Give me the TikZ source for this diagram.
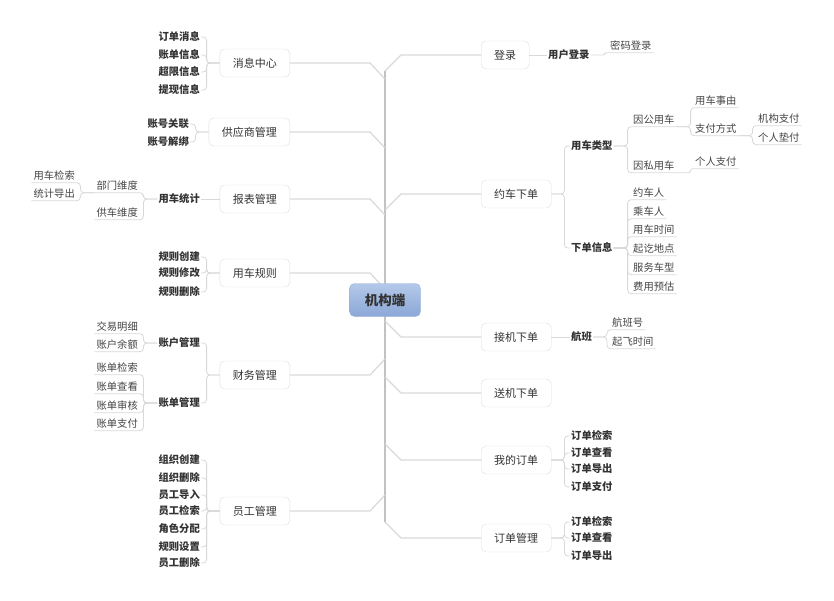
\documentclass[tikz,border=0pt]{standalone}
\usepackage{fontspec}
\setmainfont{Noto Sans CJK SC}
\usepackage{xcolor}
\usepackage{tikz}
\definecolor{linegray}{HTML}{D8D8D8}
\definecolor{spinegray}{HTML}{C2C2C2}
\definecolor{boxline}{HTML}{DDDDDD}
\definecolor{txt}{HTML}{333333}
\definecolor{leaftxt}{HTML}{444444}
\definecolor{roottop}{HTML}{B4C8E9}
\definecolor{rootbot}{HTML}{8CA8D7}
\definecolor{rootline}{HTML}{95AFDA}

\begin{document}
\begin{tikzpicture}[x=1pt,y=-1pt,
  box/.style={draw=boxline,fill=white,rounded corners=5pt,inner xsep=13pt,minimum height=28pt,text=txt,font=\fontsize{11}{13}\selectfont},
  sub/.style={inner xsep=1pt,inner ysep=1pt,text height=8.5pt,text depth=1.5pt,text=txt,font=\fontsize{10.3}{12}\selectfont\bfseries},
  leaf/.style={inner xsep=2pt,inner ysep=1.5pt,text height=8.5pt,text depth=1.5pt,text=leaftxt,font=\fontsize{10.3}{12}\selectfont},
  branch/.style={draw=linegray,line width=1.2pt},
  link/.style={draw=linegray,line width=0.8pt,rounded corners=3.5pt}]
\useasboundingbox (0,0) rectangle (834,600);
\coordinate (top) at (385,71);
\coordinate (bot) at (385,522);
\draw[spinegray,line width=2.5pt] (top) -- (bot);

% left side
\node[box,anchor=east] (msg) at (290,63) {消息中心};
\node[box,anchor=east] (supp) at (290,132) {供应商管理};
\node[box,anchor=east] (rpt) at (290,199) {报表管理};
\node[box,anchor=east] (rule) at (290,273) {用车规则};
\node[box,anchor=east] (fin) at (290,375) {财务管理};
\node[box,anchor=east] (staff) at (290,511) {员工管理};
\foreach \b in {msg,supp,rpt,rule} \draw[branch] (\b.east) -- ++(80,0) -- ++(15,16);
\foreach \b in {fin,staff} \draw[branch] (\b.east) -- ++(80,0) -- ++(15,-16);

\foreach \t/\y [count=\i] in {订单消息/37,账单信息/55,超限信息/72,提现信息/90}
  {\node[sub,anchor=east] (msg\i) at (201,\y) {\t};
   \draw[link] (msg.west) -- ++(-13,0) |- (msg\i.east);}
\foreach \t/\y [count=\i] in {账号关联/124,账号解绑/142}
  {\node[sub,anchor=east] (supp\i) at (190,\y) {\t};
   \draw[link] (supp.west) -- ++(-13,0) |- (supp\i.east);}
\node[sub,anchor=east] (rpt1) at (201,199) {用车统计};
\draw[link] (rpt.west) -- (rpt1.east);
\foreach \t/\y [count=\i] in {部门维度/186,供车维度/213}
  {\node[leaf,anchor=east] (rpta\i) at (140,\y) {\t};
   \draw[link] (rpt1.west) -- ++(-14,0) |- (rpta\i.south west);}
\foreach \t/\y [count=\i] in {用车检索/176,统计导出/194}
  {\node[leaf,anchor=east] (rptb\i) at (77,\y) {\t};
   \draw[link] (rpta1.south west) -- ++(-14,0) |- (rptb\i.south west);}
\foreach \t/\y [count=\i] in {规则创建/257,规则修改/273,规则删除/292}
  {\node[sub,anchor=east] (rule\i) at (201,\y) {\t};
   \draw[link] (rule.west) -- ++(-13,0) |- (rule\i.east);}
\foreach \t/\y [count=\i] in {账户管理/343,账单管理/403}
  {\node[sub,anchor=east] (fin\i) at (201,\y) {\t};
   \draw[link] (fin.west) -- ++(-13,0) |- (fin\i.east);}
\foreach \t/\y [count=\i] in {交易明细/327,账户余额/345}
  {\node[leaf,anchor=east] (fina\i) at (140,\y) {\t};
   \draw[link] (fin1.west) -- ++(-14,0) |- (fina\i.south west);}
\foreach \t/\y [count=\i] in {账单检索/368,账单查看/387,账单审核/406,账单支付/424}
  {\node[leaf,anchor=east] (finb\i) at (140,\y) {\t};
   \draw[link] (fin2.west) -- ++(-14,0) |- (finb\i.south west);}
\foreach \t/\y [count=\i] in {组织创建/460,组织删除/478,员工导入/495,员工检索/511,角色分配/529,规则设置/547,员工删除/563}
  {\node[sub,anchor=east] (staff\i) at (201,\y) {\t};
   \draw[link] (staff.west) -- ++(-13,0) |- (staff\i.east);}

% right side
\node[box,anchor=west] (login) at (481,55) {登录};
\node[box,anchor=west] (book) at (481,194) {约车下单};
\node[box,anchor=west] (pick) at (481,337) {接机下单};
\node[box,anchor=west] (drop) at (481,393) {送机下单};
\node[box,anchor=west] (mine) at (481,460) {我的订单};
\node[box,anchor=west] (ordm) at (481,538) {订单管理};
\foreach \b in {login,book} \draw[branch] (\b.west) -- ++(-80,0) -- ++(-16,16);
\foreach \b in {pick,drop,mine,ordm} \draw[branch] (\b.west) -- ++(-80,0) -- ++(-16,-16);

\node[sub,anchor=west] (login1) at (547,55) {用户登录};
\draw[link] (login.east) -- (login1.west);
\node[leaf,anchor=west] (logina1) at (608,46) {密码登录};
\draw[link,rounded corners=1.5pt] (login1.east) -- ++(14,0) |- (logina1.south east);

\foreach \t/\y [count=\i] in {用车类型/146,下单信息/248}
  {\node[sub,anchor=west] (book\i) at (570,\y) {\t};
   \draw[link] (book.east) -- ++(13,0) |- (book\i.west);}
\foreach \t/\y [count=\i] in {因公用车/120,因私用车/166}
  {\node[leaf,anchor=west] (booka\i) at (631,\y) {\t};
   \draw[link] (book1.east) -- ++(14,0) |- (booka\i.south east);}
\foreach \t/\y [count=\i] in {用车事由/101,支付方式/129}
  {\node[leaf,anchor=west] (bookb\i) at (693,\y) {\t};
   \draw[link] (booka1.south east) -- ++(14,0) |- (bookb\i.south east);}
\foreach \t/\y [count=\i] in {机构支付/119,个人垫付/138}
  {\node[leaf,anchor=west] (bookc\i) at (756,\y) {\t};
   \draw[link] (bookb2.south east) -- ++(14,0) |- (bookc\i.south east);}
\node[leaf,anchor=west] (bookd1) at (693,162) {个人支付};
\draw[link,rounded corners=2pt] (booka2.south east) -- ++(14,0) |- (bookd1.south east);
\foreach \t/\y [count=\i] in {约车人/193,乘车人/212,用车时间/230,起讫地点/249,服务车型/268,费用预估/287}
  {\node[leaf,anchor=west] (booke\i) at (631,\y) {\t};
   \draw[link] (book2.east) -- ++(14,0) |- (booke\i.south east);}

\node[sub,anchor=west] (pick1) at (570,337) {航班};
\draw[link] (pick.east) -- (pick1.west);
\foreach \t/\y [count=\i] in {航班号/323,起飞时间/342}
  {\node[leaf,anchor=west] (picka\i) at (610,\y) {\t};
   \draw[link] (pick1.east) -- ++(14,0) |- (picka\i.south east);}

\foreach \t/\y [count=\i] in {订单检索/436,订单查看/453,订单导出/469,订单支付/487}
  {\node[sub,anchor=west] (mine\i) at (570,\y) {\t};
   \draw[link] (mine.east) -- ++(13,0) |- (mine\i.west);}
\foreach \t/\y [count=\i] in {订单检索/522,订单查看/538,订单导出/556}
  {\node[sub,anchor=west] (ordm\i) at (570,\y) {\t};
   \draw[link] (ordm.east) -- ++(13,0) |- (ordm\i.west);}

% centre on top of the spine
\node[draw=rootline,top color=roottop,bottom color=rootbot,rounded corners=5pt,minimum width=71pt,minimum height=33pt,text=txt,font=\fontsize{13.5}{15}\selectfont\bfseries] (root) at (385,300) {机构端};
\end{tikzpicture}
\end{document}
